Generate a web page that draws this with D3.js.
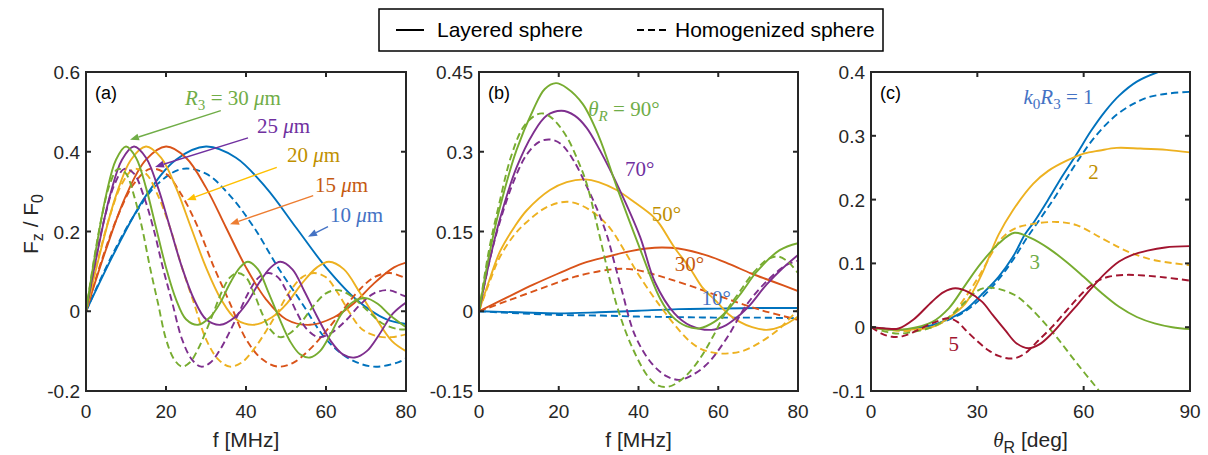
<!DOCTYPE html>
<html><head><meta charset="utf-8">
<script src="https://cdn.jsdelivr.net/npm/d3@7"></script>
<style>body{margin:0;background:#fff}svg{display:block}</style>
</head><body>
<svg id="chart" width="1208" height="455"></svg>
<script>
// ---------------- DATA ----------------
const freqTicks = [0, 20, 40, 60, 80];
const thetaTicks = [0, 30, 60, 90];
const aYTicks = [-0.2, 0, 0.2, 0.4, 0.6];
const aYTickLabels = ["-0.2", "0", "0.2", "0.4", "0.6"];
const bYTicks = [-0.15, 0, 0.15, 0.3, 0.45];
const bYTickLabels = ["-0.15", "0", "0.15", "0.3", "0.45"];
const cYTicks = [-0.1, 0, 0.1, 0.2, 0.3, 0.4];
const cYTickLabels = ["-0.1", "0", "0.1", "0.2", "0.3", "0.4"];

// Panel (a): F_z/F_0 vs f [MHz], radius R3 = 10..30 um
const aSolid10 = [[0,0],[7.5,0.155],[15,0.29],[22.5,0.38],[30,0.413],[37.5,0.385],[45,0.31],[52.5,0.21],[60,0.11],[67.5,0.03],[75,-0.02],[80,-0.032]];
const aSolid15 = [[0,0],[5,0.155],[10,0.29],[15,0.38],[20,0.413],[25,0.385],[30,0.31],[35,0.21],[40,0.11],[45,0.03],[50,-0.02],[56,-0.034],[62,-0.015],[67,0.02],[72,0.07],[77,0.11],[80,0.122]];
const aSolid20 = [[0,0],[3.75,0.155],[7.5,0.29],[11.25,0.38],[15,0.413],[18.75,0.385],[22.5,0.31],[26.25,0.21],[30,0.11],[33.75,0.03],[37.5,-0.02],[42,-0.034],[46.5,-0.015],[50.25,0.02],[54,0.07],[57.75,0.11],[60.75,0.124],[64.5,0.105],[68.25,0.05],[72,-0.01],[76.5,-0.075],[80,-0.1]];
const aSolid25 = [[0,0],[3,0.155],[6,0.29],[9,0.38],[12,0.413],[15,0.385],[18,0.31],[21,0.21],[24,0.11],[27,0.03],[30,-0.02],[33.6,-0.034],[37.2,-0.015],[40.2,0.02],[43.2,0.07],[46.2,0.11],[48.6,0.124],[51.6,0.105],[54.6,0.05],[57.6,-0.01],[61.2,-0.075],[64.2,-0.108],[67.2,-0.116],[70.2,-0.1],[73.2,-0.06],[76.8,-0.005],[80,0.022]];
const aSolid30 = [[0,0],[2.5,0.155],[5,0.29],[7.5,0.38],[10,0.413],[12.5,0.385],[15,0.31],[17.5,0.21],[20,0.11],[22.5,0.03],[25,-0.02],[28,-0.034],[31,-0.015],[33.5,0.02],[36,0.07],[38.5,0.11],[40.5,0.124],[43,0.105],[45.5,0.05],[48,-0.01],[51,-0.075],[53.5,-0.108],[56,-0.116],[58.5,-0.1],[61,-0.06],[64,-0.005],[67,0.025],[70,0.033],[73,0.018],[76,-0.01],[80,-0.04]];
const aDash10 = [[0,0],[6,0.13],[12,0.24],[18,0.32],[24,0.357],[30,0.345],[36,0.29],[42,0.21],[48,0.11],[54,0.02],[60,-0.07],[66,-0.12],[72,-0.139],[78,-0.128],[80,-0.118]];
const aDash15 = [[0,0],[4,0.13],[8,0.24],[12,0.32],[16,0.357],[20,0.345],[24,0.29],[28,0.21],[32,0.11],[36,0.02],[40,-0.07],[44,-0.12],[48,-0.139],[52,-0.128],[56,-0.095],[60,-0.05],[64,0],[68,0.05],[72,0.085],[76,0.096],[80,0.082]];
const aDash20 = [[0,0],[3,0.13],[6,0.24],[9,0.32],[12,0.357],[15,0.345],[18,0.29],[21,0.21],[24,0.11],[27,0.02],[30,-0.07],[33,-0.12],[36,-0.139],[39,-0.128],[42,-0.095],[45,-0.05],[48,0],[51,0.05],[54,0.085],[57,0.096],[60,0.085],[63,0.045],[66,-0.005],[69,-0.045],[73,-0.063],[76.5,-0.065],[80,-0.058]];
const aDash25 = [[0,0],[2.4,0.13],[4.8,0.24],[7.2,0.32],[9.6,0.357],[12,0.345],[14.4,0.29],[16.8,0.21],[19.2,0.11],[21.6,0.02],[24,-0.07],[26.4,-0.12],[28.8,-0.139],[31.2,-0.128],[33.6,-0.095],[36,-0.05],[38.4,0],[40.8,0.05],[43.2,0.085],[45.6,0.096],[48,0.085],[50.4,0.045],[52.8,-0.005],[55.2,-0.045],[58.2,-0.065],[61.2,-0.055],[64.8,-0.025],[68.4,0.015],[72,0.045],[75.6,0.053],[79.2,0.04],[80,0.037]];
const aDash30 = [[0,0],[2,0.13],[4,0.24],[6,0.32],[8,0.357],[10,0.345],[12,0.29],[14,0.21],[16,0.11],[18,0.02],[20,-0.07],[22,-0.12],[24,-0.139],[26,-0.128],[28,-0.095],[30,-0.05],[32,0],[34,0.05],[36,0.085],[38,0.096],[40,0.085],[42,0.045],[44,-0.005],[46,-0.045],[48.5,-0.065],[51,-0.055],[54,-0.025],[57,0.015],[60,0.045],[63,0.053],[66,0.04],[70,0.005],[74,-0.03],[78,-0.045],[80,-0.045]];

// Panel (b): F_z/F_0 vs f [MHz], theta_R = 10..90 deg
const bSolid10 = [[0,0],[10,-0.002],[20,-0.004],[30,-0.002],[40,0.001],[50,0.004],[60,0.005],[70,0.006],[80,0.006]];
const bSolid30 = [[0,0],[7.3,0.027],[13.6,0.05],[19.9,0.071],[26,0.09],[32.4,0.103],[38,0.113],[42,0.118],[45.8,0.12],[50,0.118],[57.5,0.104],[63,0.088],[68.3,0.071],[74,0.055],[80,0.038]];
const bSolid50 = [[0,0],[2.8,0.063],[5.3,0.113],[9,0.16],[12,0.19],[17.8,0.228],[22,0.243],[26.6,0.248],[30,0.243],[34.5,0.228],[39,0.205],[43.7,0.178],[45.4,0.163],[49,0.12],[52.9,0.081],[56,0.045],[59.6,0.018],[62.5,-0.005],[65.4,-0.02],[68.5,-0.03],[72.1,-0.035],[76,-0.028],[80,-0.01]];
const bSolid70 = [[0,0],[2.8,0.1],[5.3,0.175],[9.4,0.27],[13.6,0.335],[17,0.368],[20.7,0.377],[24,0.368],[27,0.345],[30.3,0.303],[35.3,0.228],[40.4,0.14],[44.1,0.055],[49,-0.004],[53,-0.027],[58.3,-0.035],[62,-0.026],[65.4,-0.007],[68,0.012],[72.1,0.05],[76,0.08],[80,0.106]];
const bSolid90 = [[0,0],[2.8,0.115],[5.3,0.197],[9.4,0.303],[13.6,0.379],[16.5,0.418],[19.3,0.429],[22,0.42],[26,0.39],[30,0.33],[34.5,0.235],[40,0.125],[45.4,0.024],[48.5,-0.01],[52,-0.028],[55.4,-0.032],[59,-0.02],[62.1,0],[66,0.037],[69.6,0.074],[75.4,0.115],[80,0.128]];
const bDash10 = [[0,0],[10,-0.004],[20,-0.007],[30,-0.008],[40,-0.01],[50,-0.011],[60,-0.012],[70,-0.012],[80,-0.013]];
const bDash30 = [[0,0],[7.3,0.02],[15.7,0.043],[24.1,0.065],[32.4,0.078],[36,0.08],[40,0.077],[45.8,0.065],[52.5,0.049],[60.8,0.027],[70.8,0.002],[80,-0.016]];
const bDash50 = [[0,0],[2.8,0.058],[5.3,0.103],[9,0.145],[12,0.168],[17,0.196],[22,0.206],[26,0.198],[30,0.178],[33,0.155],[36,0.12],[39.5,0.075],[43.3,0.032],[46,0.004],[49,-0.025],[52.9,-0.057],[56,-0.072],[59.6,-0.079],[63,-0.079],[66,-0.075],[69,-0.065],[72.1,-0.051],[75,-0.035],[77.1,-0.02],[80,0.003]];
const bDash70 = [[0,0],[2.8,0.1],[5.3,0.17],[9,0.25],[12,0.295],[15,0.318],[17.8,0.323],[20.5,0.315],[23.6,0.285],[27,0.235],[30,0.185],[32.2,0.14],[34,0.09],[35.8,0.04],[39.1,-0.045],[43.3,-0.098],[47,-0.122],[50.2,-0.129],[53,-0.122],[57.1,-0.1],[62.1,-0.051],[67.1,0.012],[72.1,0.056],[77.1,0.087],[80,0.095]];
const bDash90 = [[0,0],[2.5,0.115],[5,0.2],[8,0.29],[11,0.345],[14,0.368],[16.1,0.372],[18.5,0.362],[22,0.328],[25,0.28],[27,0.24],[30.3,0.14],[32.8,0.06],[35,0.0],[38.3,-0.066],[42.4,-0.123],[45,-0.14],[47.5,-0.142],[50,-0.133],[52.5,-0.117],[55.5,-0.088],[58.5,-0.05],[62,0.0],[65.4,0.037],[69,0.074],[72.5,0.098],[75,0.103],[77.5,0.093],[80,0.072]];

// Panel (c): F_z/F_0 vs theta_R [deg], k0R3 = 1,2,3,5
const cSolid1 = [[0,0],[5,-0.003],[10,-0.004],[17.2,0.003],[22,0.013],[26.6,0.027],[31,0.05],[36,0.079],[40,0.11],[43.5,0.146],[46,0.165],[50,0.2],[54,0.237],[58,0.271],[62,0.307],[66,0.338],[70,0.363],[75,0.385],[81,0.4],[90,0.415]];
const cSolid2 = [[0,0],[5,-0.003],[10,-0.004],[17.2,0.0],[22,0.015],[26.6,0.037],[31,0.08],[36,0.145],[40,0.183],[45.8,0.225],[50,0.245],[55.2,0.261],[60,0.272],[64.6,0.277],[69.3,0.281],[76,0.28],[83.4,0.278],[90,0.274]];
const cSolid3 = [[0,0],[5,-0.004],[10,-0.003],[17.2,0.008],[22,0.03],[26.6,0.066],[31,0.1],[36,0.131],[40.5,0.148],[45,0.14],[50,0.124],[55,0.103],[60,0.079],[65,0.054],[70,0.032],[75,0.016],[80,0.006],[85,0.0],[90,-0.003]];
const cSolid5 = [[0,0],[4,-0.002],[7.8,-0.002],[12,0.012],[17.2,0.04],[20.5,0.055],[23.8,0.061],[27.5,0.055],[31.3,0.04],[34.5,0.018],[37.9,-0.005],[41,-0.025],[44.4,-0.033],[47.5,-0.027],[51,-0.01],[54.5,0.012],[58.5,0.037],[62,0.06],[66,0.084],[70,0.103],[73.6,0.113],[78,0.12],[83,0.125],[90,0.127]];
const cDash1 = [[0,0],[5,-0.003],[10,-0.005],[17.2,0.002],[22,0.012],[26.6,0.025],[31,0.045],[36,0.075],[40,0.105],[44,0.14],[48,0.172],[52,0.205],[55,0.232],[58,0.258],[62,0.29],[66,0.316],[70,0.336],[74,0.35],[78,0.36],[83.4,0.366],[90,0.369]];
const cDash2 = [[0,0],[5,-0.004],[10,-0.006],[17.2,0.0],[22,0.015],[27,0.05],[31,0.085],[34,0.115],[37,0.14],[40.7,0.155],[45.8,0.162],[52.4,0.165],[58,0.16],[64.6,0.141],[70,0.125],[74,0.115],[80,0.105],[90,0.097]];
const cDash3 = [[0,0],[4,-0.007],[7.8,-0.01],[12,-0.007],[17.2,0.0],[22,0.016],[26.6,0.04],[30,0.057],[32.5,0.062],[36,0.06],[40.7,0.05],[45,0.03],[50,0.0],[53,-0.02],[56.6,-0.046],[60,-0.07],[64.1,-0.098],[70,-0.14],[80,-0.21],[90,-0.28]];
const cDash5 = [[0,0],[3,-0.01],[5.9,-0.015],[9,-0.014],[13,-0.005],[17.2,0.006],[21.9,0.014],[24.5,0.008],[26.6,-0.004],[30,-0.022],[33.1,-0.036],[36,-0.045],[38.8,-0.049],[41,-0.048],[43.5,-0.041],[47,-0.022],[51,0.0],[55,0.025],[58.5,0.047],[61.5,0.063],[64.1,0.073],[67,0.079],[71.7,0.082],[77,0.081],[83,0.078],[90,0.073]];

// ---------------- STYLE ----------------
const C = {blue:"#0072BD", orange:"#D95319", yellow:"#EDB120", purple:"#7E2F8E", green:"#77AC30", red:"#A2142F"};
const AX = "#262626";
const SANS = "'Liberation Sans', Arial, sans-serif";
const SERIF = "'Liberation Serif', 'DejaVu Serif', serif";

const svg = d3.select("#chart");

const panels = [
  {key:"a", xDomain:[0,80], yDomain:[-0.2,0.6], left:86, right:406, xTicks:freqTicks, yTicks:aYTicks, yLabels:aYTickLabels, xlabel:"f",
   series:[
     {d:aSolid10,c:C.blue},{d:aDash10,c:C.blue,dash:true},
     {d:aSolid15,c:C.orange},{d:aDash15,c:C.orange,dash:true},
     {d:aSolid20,c:C.yellow},{d:aDash20,c:C.yellow,dash:true},
     {d:aSolid25,c:C.purple},{d:aDash25,c:C.purple,dash:true},
     {d:aSolid30,c:C.green},{d:aDash30,c:C.green,dash:true}]},
  {key:"b", xDomain:[0,80], yDomain:[-0.15,0.45], left:479, right:798, xTicks:freqTicks, yTicks:bYTicks, yLabels:bYTickLabels, xlabel:"f",
   series:[
     {d:bSolid10,c:C.blue},{d:bDash10,c:C.blue,dash:true},
     {d:bSolid30,c:C.orange},{d:bDash30,c:C.orange,dash:true},
     {d:bSolid50,c:C.yellow},{d:bDash50,c:C.yellow,dash:true},
     {d:bSolid70,c:C.purple},{d:bDash70,c:C.purple,dash:true},
     {d:bSolid90,c:C.green},{d:bDash90,c:C.green,dash:true}]},
  {key:"c", xDomain:[0,90], yDomain:[-0.1,0.4], left:871, right:1190, xTicks:thetaTicks, yTicks:cYTicks, yLabels:cYTickLabels, xlabel:"theta",
   series:[
     {d:cSolid1,c:C.blue},{d:cDash1,c:C.blue,dash:true},
     {d:cSolid2,c:C.yellow},{d:cDash2,c:C.yellow,dash:true},
     {d:cSolid3,c:C.green},{d:cDash3,c:C.green,dash:true},
     {d:cSolid5,c:C.red},{d:cDash5,c:C.red,dash:true}]}
];
const TOP = 72, BOTTOM = 391;

const defs = svg.append("defs");
const scales = {};

panels.forEach(p => {
  const x = d3.scaleLinear().domain(p.xDomain).range([p.left, p.right]);
  const y = d3.scaleLinear().domain(p.yDomain).range([BOTTOM, TOP]);
  scales[p.key] = {x, y};
  defs.append("clipPath").attr("id", "clip-" + p.key)
    .append("rect").attr("x", p.left).attr("y", TOP).attr("width", p.right - p.left).attr("height", BOTTOM - TOP);
  const g = svg.append("g");
  const line = d3.line().x(d => x(d[0])).y(d => y(d[1])).curve(d3.curveCatmullRom.alpha(0.5));
  const lg = g.append("g").attr("clip-path", `url(#clip-${p.key})`);
  p.series.forEach(s => {
    lg.append("path").attr("d", line(s.d)).attr("fill", "none")
      .attr("stroke", s.c).attr("stroke-width", 1.9)
      .attr("stroke-dasharray", s.dash ? "7,4" : null);
  });
  g.append("rect").attr("x", p.left).attr("y", TOP).attr("width", p.right - p.left).attr("height", BOTTOM - TOP)
    .attr("fill", "none").attr("stroke", AX).attr("stroke-width", 2);
  p.xTicks.forEach(t => {
    g.append("line").attr("x1", x(t)).attr("x2", x(t)).attr("y1", BOTTOM).attr("y2", BOTTOM - 5).attr("stroke", AX).attr("stroke-width", 2);
    g.append("line").attr("x1", x(t)).attr("x2", x(t)).attr("y1", TOP).attr("y2", TOP + 5).attr("stroke", AX).attr("stroke-width", 2);
    g.append("text").attr("x", x(t)).attr("y", 418).attr("text-anchor", "middle")
      .attr("font-family", SANS).attr("font-size", 19).attr("fill", AX).text(String(t));
  });
  p.yTicks.forEach((t, i) => {
    g.append("line").attr("x1", p.left).attr("x2", p.left + 5).attr("y1", y(t)).attr("y2", y(t)).attr("stroke", AX).attr("stroke-width", 2);
    g.append("line").attr("x1", p.right).attr("x2", p.right - 5).attr("y1", y(t)).attr("y2", y(t)).attr("stroke", AX).attr("stroke-width", 2);
    g.append("text").attr("x", p.left - 6).attr("y", y(t) + 7).attr("text-anchor", "end")
      .attr("font-family", SANS).attr("font-size", 19).attr("fill", AX).text(p.yLabels[i]);
  });
  g.append("text").attr("x", p.left + 9).attr("y", 99).attr("font-family", SANS).attr("font-size", 18).attr("fill", "#000").text(`(${p.key})`);
  const cx = (p.left + p.right) / 2;
  if (p.xlabel === "f") {
    g.append("text").attr("x", cx).attr("y", 447).attr("text-anchor", "middle").attr("font-family", SANS)
      .attr("font-size", 21).attr("fill", AX).text("f [MHz]");
  } else {
    const t = g.append("text").attr("x", cx).attr("y", 447).attr("text-anchor", "middle").attr("font-family", SANS)
      .attr("font-size", 21).attr("fill", AX);
    t.append("tspan").attr("font-family", SERIF).attr("font-style", "italic").text("θ");
    t.append("tspan").attr("font-size", 16).attr("dy", 6).text("R");
    t.append("tspan").attr("dy", -6).text(" [deg]");
  }
});

{
  const t = svg.append("text").attr("transform", "translate(38,224) rotate(-90)").attr("text-anchor", "middle")
    .attr("font-family", SANS).attr("font-size", 21).attr("fill", AX);
  t.append("tspan").text("F");
  t.append("tspan").attr("font-size", 16).attr("dy", 5).text("z");
  t.append("tspan").attr("dy", -5).text(" / F");
  t.append("tspan").attr("font-size", 16).attr("dy", 5).text("0");
}

{
  const lg = svg.append("g");
  lg.append("rect").attr("x", 379).attr("y", 9).attr("width", 504).attr("height", 42).attr("fill", "#fff").attr("stroke", "#000").attr("stroke-width", 1.5);
  lg.append("line").attr("x1", 396).attr("x2", 424).attr("y1", 30).attr("y2", 30).attr("stroke", "#000").attr("stroke-width", 2);
  lg.append("text").attr("x", 437).attr("y", 37).attr("font-family", SANS).attr("font-size", 21).attr("fill", "#000").text("Layered sphere");
  lg.append("line").attr("x1", 637).attr("x2", 668).attr("y1", 30).attr("y2", 30).attr("stroke", "#000").attr("stroke-width", 2).attr("stroke-dasharray", "7,4");
  lg.append("text").attr("x", 675).attr("y", 37).attr("font-family", SANS).attr("font-size", 21).attr("fill", "#000").text("Homogenized sphere");
}

// ---------------- ANNOTATIONS ----------------
function addLabel(panelKey, xv, yv, color, parts, size) {
  const {x, y} = scales[panelKey];
  const fs = size || 21;
  const t = svg.append("text").attr("x", x(xv)).attr("y", y(yv)).attr("font-family", SERIF)
    .attr("font-size", fs).attr("fill", color);
  let shift = 0;
  parts.forEach(([txt, st]) => {
    const sp = t.append("tspan").text(txt);
    if (st && st.includes("i")) sp.attr("font-style", "italic");
    if (st && st.includes("s")) { sp.attr("font-size", fs * 0.72).attr("dy", 5 - shift); shift = 5; }
    else if (shift) { sp.attr("dy", -shift); shift = 0; }
  });
}
const arrowColors = {green:"#70AD47", purple:"#7030A0", yellow:"#FFC000", orange:"#ED7D31", blue:"#4472C4"};
function addArrow(panelKey, x1, y1, x2, y2, color) {
  const {x, y} = scales[panelKey];
  const X1 = x(x1), Y1 = y(y1), X2 = x(x2), Y2 = y(y2);
  const ang = Math.atan2(Y2 - Y1, X2 - X1);
  const L = 9, Wd = 3.5;
  const bx = X2 - L * Math.cos(ang), by = Y2 - L * Math.sin(ang);
  svg.append("line").attr("x1", X1).attr("y1", Y1).attr("x2", bx).attr("y2", by).attr("stroke", color).attr("stroke-width", 1.4);
  svg.append("path").attr("d", `M${X2},${Y2}L${bx - Wd * Math.sin(ang)},${by + Wd * Math.cos(ang)}L${bx + Wd * Math.sin(ang)},${by - Wd * Math.cos(ang)}Z`).attr("fill", color);
}

addArrow("a", 33.7, 0.503, 11, 0.43, arrowColors.green);
addArrow("a", 40.5, 0.435, 17.25, 0.362, arrowColors.purple);
addArrow("a", 47.7, 0.361, 25.2, 0.279, arrowColors.yellow);
addArrow("a", 56.8, 0.29, 36, 0.218, arrowColors.orange);
addArrow("a", 60.5, 0.212, 55.5, 0.187, arrowColors.blue);
addLabel("a", 24.75, 0.517, "#70AD47", [["R","i"],["3","s"],[" = 30 "],["μ","i"],["m"]]);
addLabel("a", 42.75, 0.447, "#7030A0", [["25 "],["μ","i"],["m"]]);
addLabel("a", 50.25, 0.374, "#BF9000", [["20 "],["μ","i"],["m"]]);
addLabel("a", 57.25, 0.299, "#C55A11", [["15 "],["μ","i"],["m"]]);
addLabel("a", 61, 0.224, "#4472C4", [["10 "],["μ","i"],["m"]]);

addLabel("b", 27.4, 0.367, "#70AD47", [["θ","i"],["R","is"],[" = 90°"]]);
addLabel("b", 36.6, 0.254, "#7030A0", [["70°"]]);
addLabel("b", 43.3, 0.17, "#BF9000", [["50°"]]);
addLabel("b", 49.1, 0.076, "#C55A11", [["30°"]]);
addLabel("b", 55.8, 0.012, "#4472C4", [["10°"]]);

addLabel("c", 43, 0.35, "#4472C4", [["k","i"],["0","s"],["R","i"],["3","s"],[" = 1"]]);
addLabel("c", 61.3, 0.233, "#BF9000", [["2"]]);
addLabel("c", 44.7, 0.092, "#70AD47", [["3"]]);
addLabel("c", 21.9, -0.0375, "#A2142F", [["5"]]);
</script>
</body></html>
